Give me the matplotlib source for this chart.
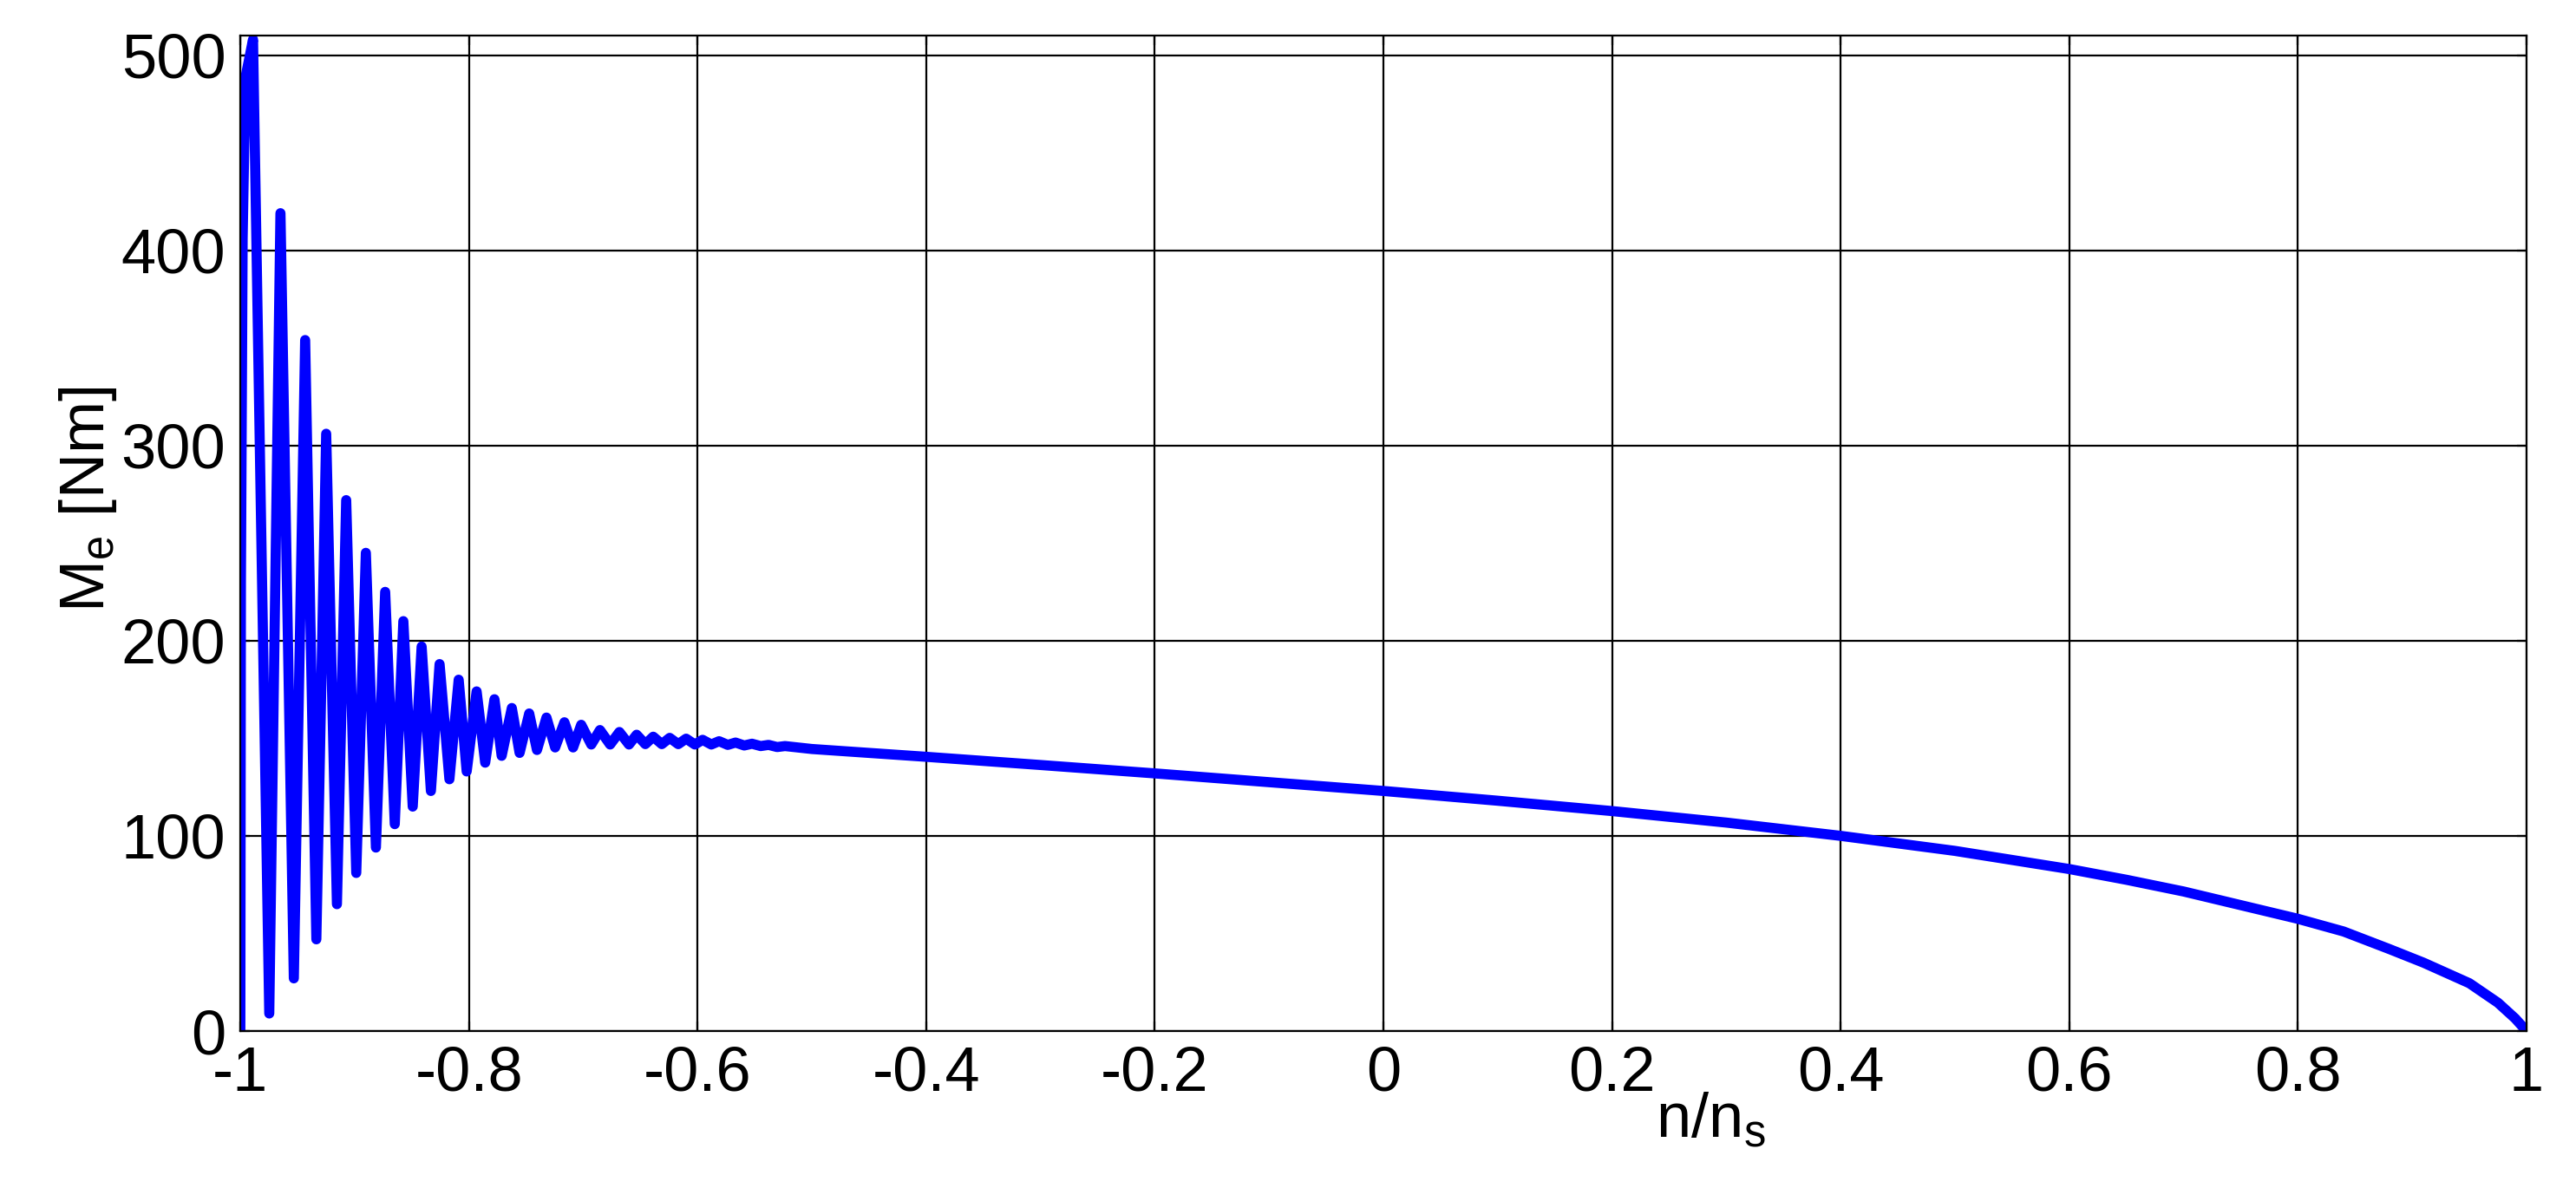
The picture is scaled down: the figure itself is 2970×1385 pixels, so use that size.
import matplotlib
matplotlib.use('Agg')
import matplotlib.pyplot as plt
import numpy as np

# start-up oscillation: successive peaks and troughs
osc_x = [-1.0, -0.9995, -0.9980, -0.9965, -0.9950, -0.9889,
         -0.9747, -0.9649, -0.9532, -0.9433, -0.9335, -0.9249, -0.9155, -0.9074,
         -0.8986, -0.8902, -0.8814, -0.8733, -0.8649, -0.8574, -0.8492, -0.8414,
         -0.8333, -0.8257, -0.8171, -0.8090, -0.8020, -0.7933, -0.7858, -0.7777,
         -0.7714, -0.7625, -0.7557, -0.7473, -0.7405, -0.7322, -0.7246, -0.7165,
         -0.7089, -0.7018, -0.6930, -0.6854, -0.6765, -0.6684, -0.6600, -0.6533,
         -0.6457, -0.6388, -0.6313, -0.6244, -0.6169, -0.6100, -0.6024, -0.5956,
         -0.5880, -0.5812, -0.5736, -0.5668, -0.5592, -0.5524, -0.5448, -0.5379,
         -0.5304, -0.5235]
osc_y = [0, 230, 406, 456, 490, 508,
         9, 419, 27, 354, 47, 306, 65, 272,
         81, 245, 94, 225, 106, 210, 115, 197,
         123, 188, 129, 180, 133, 174, 137.5, 170,
         141, 165.5, 142.5, 162.7, 144, 160.6, 145.3, 158.2,
         145.3, 156.9, 146.8, 154.2, 146.8, 153.2, 146.8, 151.8,
         147.0, 150.8, 147.0, 150.2, 147.0, 149.8, 146.8, 149.2,
         146.8, 148.5, 146.6, 147.8, 146.3, 147.2, 146.0, 146.6,
         145.5, 146.0]

# steady part of the torque/speed curve
tail_x = [-0.5, -0.4, -0.3, -0.2, -0.1, 0.0, 0.1, 0.2, 0.3, 0.4, 0.5, 0.6,
          0.65, 0.7, 0.75, 0.8, 0.84, 0.88, 0.91, 0.95, 0.975, 0.99, 1.0]
tail_y = [144.5, 140.5, 136.3, 132.0, 127.5, 123.0, 118.0, 112.7, 106.8, 100.0, 92.3, 83.0,
          77.5, 71.5, 64.5, 57.5, 51.0, 42.0, 35.0, 24.5, 14.5, 6.5, 0.0]

xticks = [-1, -0.8, -0.6, -0.4, -0.2, 0, 0.2, 0.4, 0.6, 0.8, 1]
xtick_labels = ['-1', '-0.8', '-0.6', '-0.4', '-0.2', '0', '0.2', '0.4', '0.6', '0.8', '1']
yticks = [0, 100, 200, 300, 400, 500]

plt.rcParams['font.family'] = ['Liberation Sans', 'DejaVu Sans']
plt.rcParams['mathtext.fontset'] = 'custom'
plt.rcParams['mathtext.rm'] = 'Liberation Sans'
plt.rcParams['mathtext.it'] = 'Liberation Sans:italic'

fig = plt.figure(figsize=(14.85, 6.925), dpi=200)
ax = fig.add_axes([0.0933, 0.1415, 0.8875, 0.8289])

ax.plot(np.concatenate([osc_x, tail_x]), np.concatenate([osc_y, tail_y]),
        color='#0000ff', lw=4.2, solid_joinstyle='round', solid_capstyle='round')

ax.set_xlim(-1, 1)
ax.set_ylim(0, 510)
ax.set_xticks(xticks)
ax.set_xticklabels(xtick_labels)
ax.set_yticks(yticks)

ax.set_axisbelow(True)
ax.grid(True, color='black', lw=0.8)
for s in ax.spines.values():
    s.set_linewidth(0.8)
ax.tick_params(direction='in', length=4, width=0.8, top=True, right=True,
               labelsize=26, pad=6)

ax.set_xlabel(r'n/n$_{\mathregular{s}}$', fontsize=26)
ax.xaxis.set_label_coords(0.643, -0.06)
ax.set_ylabel(r'M$_{\mathregular{e}}$ [Nm]', fontsize=26)
ax.yaxis.set_label_coords(-0.053, 0.534)

fig.savefig('out.png', dpi=200)
